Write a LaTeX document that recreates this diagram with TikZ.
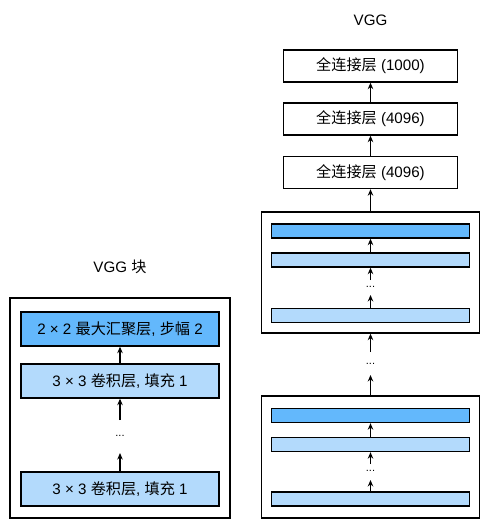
\documentclass[tikz,border=0pt]{standalone}
\usepackage{fontspec}
\setmainfont{Liberation Sans}
\newfontfamily\cjk{Noto Sans CJK SC}
\usetikzlibrary{arrows.meta}
\definecolor{darkb}{RGB}{99,184,252}
\definecolor{lightb}{RGB}{179,218,252}
\tikzset{
  x=1bp, y=-1bp,
  every node/.style={font=\fontsize{15.2}{17}\selectfont, inner sep=0pt},
  outerbox/.style={draw, line width=1.4pt, minimum width=218bp},
  layerbox/.style={draw, line width=1.4pt, minimum width=198bp, minimum height=34bp},
  fcbox/.style={draw, line width=1.4pt, minimum width=174bp, minimum height=32bp},
  bar/.style={draw, line width=1.4pt, minimum width=198bp, minimum height=14bp},
  arr/.style={line width=1.5pt, -{Stealth[length=6.5pt,width=5.5pt]}},
  dotsnode/.style={font=\fontsize{11}{12}\selectfont},
}
\begin{document}
\begin{tikzpicture}
\useasboundingbox (0,0) rectangle (482,520);
% Left: VGG block
\node (ltitle) at (120,267) {VGG {\cjk 块}};
\node[outerbox, minimum width=220bp, minimum height=220bp] (lblock) at (120,408) {};
\node[layerbox, fill=darkb] (pool) at (120,329) {2 × 2 {\cjk 最大汇聚层}, {\cjk 步幅} 2};
\node[layerbox, fill=lightb] (conv2) at (120,381) {3 × 3 {\cjk 卷积层}, {\cjk 填充} 1};
\node[dotsnode] (ldots) at (120,436) {...};
\node[layerbox, fill=lightb] (conv1) at (120,489) {3 × 3 {\cjk 卷积层}, {\cjk 填充} 1};
\coordinate (la) at (120,420);
\coordinate (lb) at (120,453);
\draw[arr] (conv2.north) -- (pool.south);
\draw[arr] (la) -- (conv2.south);
\draw[arr] (conv1.north) -- (lb);

% Right: VGG
\node (rtitle) at (370.5,20) {VGG};
\node[fcbox] (fc3) at (370.5,66) {{\cjk 全连接层} (1000)};
\node[fcbox] (fc2) at (370.5,119) {{\cjk 全连接层} (4096)};
\node[fcbox] (fc1) at (370.5,172.5) {{\cjk 全连接层} (4096)};

\node[outerbox, minimum height=121bp] (ublock) at (370.5,272.5) {};
\node[bar, fill=darkb] (ub1) at (370.5,231) {};
\node[bar, fill=lightb] (ub2) at (370.5,260) {};
\node[dotsnode] (udots) at (370.5,287) {...};
\node[bar, fill=lightb] (ub3) at (370.5,315.5) {};
\coordinate (ua) at (370.5,280);
\coordinate (ub) at (370.5,295);
\draw[arr] (ub2.north) -- (ub1.south);
\draw[arr] (ua) -- (ub2.south);
\draw[arr] (ub3.north) -- (ub);

\coordinate (ma) at (370.5,352);
\node[dotsnode] (mdots) at (370.5,364) {...};
\coordinate (mb) at (370.5,375);

\node[outerbox, minimum height=122bp] (dblock) at (370.5,457) {};
\node[bar, fill=darkb] (db1) at (370.5,415.5) {};
\node[bar, fill=lightb] (db2) at (370.5,444.5) {};
\node[dotsnode] (ddots) at (370.5,471) {...};
\node[bar, fill=lightb] (db3) at (370.5,499) {};
\coordinate (da) at (370.5,464);
\coordinate (db) at (370.5,480);
\draw[arr] (db2.north) -- (db1.south);
\draw[arr] (da) -- (db2.south);
\draw[arr] (db3.north) -- (db);

\draw[arr] (ma) -- (ublock.south);
\draw[arr] (dblock.north) -- (mb);
\draw[arr] (ublock.north) -- (fc1.south);
\draw[arr] (fc1.north) -- (fc2.south);
\draw[arr] (fc2.north) -- (fc3.south);
\end{tikzpicture}
\end{document}
